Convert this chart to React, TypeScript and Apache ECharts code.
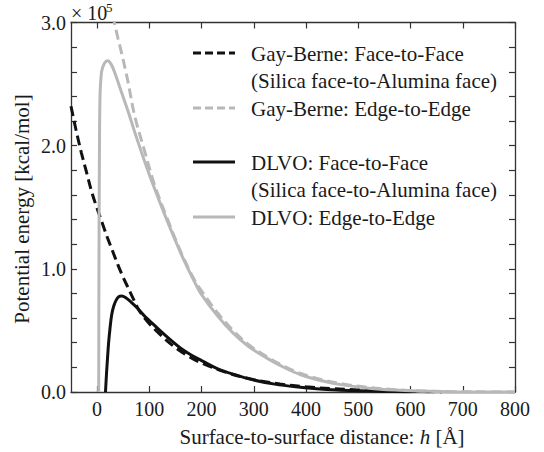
import React, { useEffect, useRef } from "react";
import * as echarts from "echarts";

const FONT = '"Liberation Serif", "Times New Roman", serif';
const GRAY = "#b8b8b8";
const BLACK = "#111111";

// Gay-Berne, face-to-face (silica face to alumina face), energy in 1e5 kcal/mol
const gbFaceH = [-50, -40, -30, -20, -10, 0, 10, 20, 30, 40, 50, 60, 70, 80, 100, 125, 150, 175, 200, 250, 300, 350, 400, 450, 500, 550, 600, 660];
const gbFaceE = [2.32, 2.12, 1.94, 1.78, 1.62, 1.49, 1.37, 1.25, 1.14, 1.03, 0.93, 0.84, 0.75, 0.665, 0.555, 0.45, 0.36, 0.29, 0.235, 0.155, 0.1, 0.065, 0.042, 0.027, 0.017, 0.01, 0.005, 0];

// Gay-Berne, edge-to-edge
const gbEdgeH = [30, 33, 40, 47, 55, 60, 72, 90, 110, 135, 160, 185, 200, 230, 260, 290, 325, 360, 390, 430, 470, 520, 570, 620, 680, 740, 800];
const gbEdgeE = [3.06, 3.0, 2.87, 2.75, 2.6, 2.5, 2.24, 1.97, 1.68, 1.4, 1.14, 0.92, 0.82, 0.645, 0.5, 0.385, 0.285, 0.205, 0.15, 0.1, 0.065, 0.036, 0.019, 0.009, 0.003, 0.001, 0];

// DLVO, face-to-face
const dlvoFaceH = [16, 18, 20, 22, 25, 28, 32, 37, 42, 47, 55, 65, 75, 90, 100, 120, 140, 160, 180, 200, 230, 260, 300, 340, 380, 420, 460, 500, 550, 600];
const dlvoFaceE = [0, 0.15, 0.28, 0.4, 0.53, 0.63, 0.7, 0.75, 0.775, 0.78, 0.765, 0.73, 0.69, 0.62, 0.58, 0.5, 0.425, 0.355, 0.3, 0.255, 0.19, 0.145, 0.097, 0.064, 0.042, 0.027, 0.017, 0.011, 0.005, 0.002];

// DLVO, edge-to-edge
const dlvoEdgeH = [3, 3.5, 4.5, 5.5, 7, 9, 14, 20, 27, 34, 47, 60, 72, 92, 111, 136, 162, 187, 200, 230, 260, 290, 325, 360, 390, 430, 470, 520, 570, 620, 680, 740, 800];
const dlvoEdgeE = [0, 1.0, 2.0, 2.4, 2.53, 2.61, 2.67, 2.69, 2.66, 2.59, 2.43, 2.27, 2.11, 1.86, 1.64, 1.37, 1.11, 0.89, 0.79, 0.62, 0.48, 0.37, 0.275, 0.195, 0.14, 0.092, 0.058, 0.031, 0.016, 0.008, 0.002, 0.0005, 0];

const xTicks = [0, 100, 200, 300, 400, 500, 600, 700, 800];

const legendRows = [
  { label: "Gay-Berne: Face-to-Face", color: BLACK, dashed: true, y: 54 },
  { label: "(Silica face-to-Alumina face)", color: null, dashed: false, y: 81 },
  { label: "Gay-Berne: Edge-to-Edge", color: GRAY, dashed: true, y: 109 },
  { label: "DLVO: Face-to-Face", color: BLACK, dashed: false, y: 163 },
  { label: "(Silica face-to-Alumina face)", color: null, dashed: false, y: 190 },
  { label: "DLVO: Edge-to-Edge", color: GRAY, dashed: false, y: 218 },
];

const pairs = (h: number[], e: number[]) => h.map((v, i) => [v, e[i]]);

function buildOption() {
  const axisLine = { show: true, onZero: false, lineStyle: { color: "#333", width: 1.3 } };
  const tickStyle = { show: true, inside: true, length: 6, lineStyle: { color: "#333", width: 1.2 } };
  const lineSeries = (name: string, data: number[][], color: string, dashed: boolean) => ({
    name,
    type: "line",
    data,
    showSymbol: false,
    symbol: "none",
    smooth: 0.35,
    clip: true,
    lineStyle: { color, width: 3, type: dashed ? [10, 5] : "solid" },
    emphasis: { disabled: true },
  });

  const legendGraphics: any[] = [];
  legendRows.forEach((r) => {
    if (r.color) {
      legendGraphics.push({
        type: "line",
        shape: { x1: 193, y1: r.y - 1, x2: 235, y2: r.y - 1 },
        style: { stroke: r.color, lineWidth: 3, lineDash: r.dashed ? [8, 4] : null },
        silent: true,
      });
    }
    legendGraphics.push({
      type: "text",
      x: 251,
      y: r.y,
      style: {
        text: r.label,
        fontFamily: FONT,
        fontSize: 21,
        fill: "#1a1a1a",
        verticalAlign: "middle",
        align: "left",
      },
      silent: true,
    });
  });

  return {
    animation: false,
    backgroundColor: "#ffffff",
    grid: { left: 71, right: 29, top: 22.5, bottom: 60, containLabel: false },
    xAxis: [
      {
        type: "value",
        min: -50,
        max: 800,
        position: "bottom",
        axisLine,
        axisTick: { ...tickStyle, customValues: xTicks },
        axisLabel: {
          customValues: xTicks,
          fontFamily: FONT,
          fontSize: 20,
          color: "#1a1a1a",
          margin: 7,
        },
        splitLine: { show: false },
      },
      {
        type: "value",
        min: -50,
        max: 800,
        position: "top",
        axisLine,
        axisTick: { ...tickStyle, customValues: xTicks },
        axisLabel: { show: false, customValues: xTicks },
        splitLine: { show: false },
      },
    ],
    yAxis: [
      {
        type: "value",
        min: 0,
        max: 3,
        interval: 0.2,
        position: "left",
        axisLine,
        axisTick: tickStyle,
        axisLabel: {
          fontFamily: FONT,
          fontSize: 20,
          color: "#1a1a1a",
          margin: 5,
          formatter: (v: number) => (Math.abs(v - Math.round(v)) < 1e-6 ? v.toFixed(1) : ""),
        },
        splitLine: { show: false },
      },
      {
        type: "value",
        min: 0,
        max: 3,
        interval: 0.2,
        position: "right",
        axisLine,
        axisTick: tickStyle,
        axisLabel: { show: false },
        splitLine: { show: false },
      },
    ],
    series: [
      lineSeries("Gay-Berne: Face-to-Face", pairs(gbFaceH, gbFaceE), BLACK, true),
      lineSeries("Gay-Berne: Edge-to-Edge", pairs(gbEdgeH, gbEdgeE), GRAY, true),
      lineSeries("DLVO: Face-to-Face", pairs(dlvoFaceH, dlvoFaceE), BLACK, false),
      lineSeries("DLVO: Edge-to-Edge", pairs(dlvoEdgeH, dlvoEdgeE), GRAY, false),
    ],
    graphic: [
      ...legendGraphics,
      {
        type: "text",
        x: 71,
        y: 13,
        style: { text: "× 10", fontFamily: FONT, fontSize: 20, fill: "#1a1a1a", verticalAlign: "middle", align: "left" },
        silent: true,
      },
      {
        type: "text",
        x: 106,
        y: 7,
        style: { text: "5", fontFamily: FONT, fontSize: 13, fill: "#1a1a1a", verticalAlign: "middle", align: "left" },
        silent: true,
      },
      {
        type: "text",
        x: 322,
        y: 437,
        style: {
          text: "{n|Surface-to-surface distance: }{i|h}{n| [Å]}",
          align: "center",
          verticalAlign: "middle",
          rich: {
            n: { fontFamily: FONT, fontSize: 21, fill: "#1a1a1a" },
            i: { fontFamily: FONT, fontSize: 21, fontStyle: "italic", fill: "#1a1a1a" },
          },
        },
        silent: true,
      },
      {
        type: "text",
        x: 22,
        y: 209,
        rotation: Math.PI / 2,
        style: {
          text: "Potential energy [kcal/mol]",
          fontFamily: FONT,
          fontSize: 21,
          fill: "#1a1a1a",
          align: "center",
          verticalAlign: "middle",
        },
        silent: true,
      },
    ],
  };
}

export default function App() {
  const ref = useRef<HTMLDivElement>(null);
  useEffect(() => {
    if (!ref.current) return;
    const chart = echarts.init(ref.current, null, { renderer: "svg" });
    chart.setOption(buildOption() as any);
    return () => chart.dispose();
  }, []);
  return <div ref={ref} style={{ position: "fixed", left: 0, top: 0, width: 544, height: 452 }} />;
}
